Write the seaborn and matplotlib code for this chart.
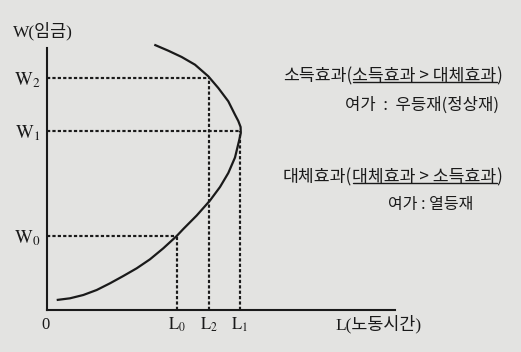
import matplotlib
matplotlib.use("Agg")
import matplotlib.pyplot as plt
import matplotlib.transforms as mtransforms
import seaborn as sns
import pandas as pd
from matplotlib.lines import Line2D

# Backward-bending labour supply curve (hours of labour vs. wage)
labour = [0.97, 2.3, 3.63, 4.97, 6.3, 7.63, 8.97, 10.3, 11.63, 12.97,
          13.63, 14.97, 16.3, 17.3, 18.13, 18.8, 19.2, 19.38, 19.36, 19.13,
          18.8, 18.13, 17.13, 16.13, 14.8, 13.47, 12.13, 10.73]
wage = [1.0, 1.17, 1.5, 2.0, 2.67, 3.4, 4.17, 5.07, 6.17, 7.4,
        8.1, 9.45, 10.95, 12.3, 13.7, 15.25, 16.9, 17.7, 18.3, 18.9,
        19.53, 20.87, 22.2, 23.37, 24.53, 25.3, 25.93, 26.53]

# Reference levels marked with guide lines
level_names = ["0", "1", "2"]
level_labour = [13.0, 19.3, 16.23]
level_wage = [7.4, 17.95, 23.2]

x_max, y_max = 34.8, 26.2

ink = "#1a1a1a"
paper = "#e3e3e1"

sns.set_theme(style="white")
plt.rcParams["font.family"] = ["Liberation Serif", "Noto Sans CJK KR"]
plt.rcParams["mathtext.fontset"] = "stix"

W, H = 521, 352
fig = plt.figure(figsize=(W / 100, H / 100), dpi=100, facecolor=paper)
ax = fig.add_axes([47 / W, 42 / H, 348 / W, 262 / H])
ax.set_facecolor("none")
ax.set_xlim(0, x_max)
ax.set_ylim(0, y_max)

for side in ("top", "right"):
    ax.spines[side].set_visible(False)
for side in ("left", "bottom"):
    ax.spines[side].set_color(ink)
    ax.spines[side].set_linewidth(1.5)

curve = pd.DataFrame({"L": labour, "W": wage})
sns.lineplot(data=curve, x="L", y="W", sort=False, estimator=None, ax=ax,
             color=ink, linewidth=1.6, clip_on=False)
ax.lines[-1].set_solid_joinstyle("round")
ax.lines[-1].set_solid_capstyle("butt")

dash = dict(color=ink, linewidth=1.55, dashes=(1.5, 1.0))
for lx, wy in zip(level_labour, level_wage):
    ax.plot([0, lx], [wy, wy], **dash)
    ax.plot([lx, lx], [0, wy], **dash)

ax.set_xticks(level_labour)
ax.set_xticklabels([rf"$\mathrm{{L}}_{{{n}}}$" for n in level_names])
ax.set_yticks(level_wage)
ax.set_yticklabels([rf"$\mathrm{{W}}_{{{n}}}$" for n in level_names])
ax.tick_params(axis="both", length=0, colors=ink)
ax.tick_params(axis="x", pad=4, labelsize=12)
ax.tick_params(axis="y", pad=5, labelsize=13.5)
ax.set_xlabel("")
ax.set_ylabel("")

# Axis captions
fig.text(13 / W, 1 - 31 / H, "W(임금)", fontsize=12.5, color=ink,
         ha="left", va="center")
fig.text(335 / W, 1 - 324 / H, "L(노동시간)", fontsize=12.5, color=ink,
         ha="left", va="center")
fig.text(45 / W, 1 - 325 / H, "0", fontsize=12, color=ink,
         ha="center", va="center")

ko = ["Noto Sans CJK KR", "DejaVu Sans"]
pix = mtransforms.IdentityTransform()


def heading(x_px, y_px, lead, inner, size=12.4):
    """Effect heading with the comparison in parentheses underlined."""
    t1 = fig.text(x_px / W, 1 - y_px / H, lead + "(", fontsize=size,
                  color=ink, family=ko, ha="left", va="bottom")
    fig.canvas.draw()
    b1 = t1.get_window_extent()
    t2 = fig.text(b1.x1, b1.y0, inner, fontsize=size, color=ink, family=ko,
                  ha="left", va="bottom", transform=pix)
    fig.canvas.draw()
    b2 = t2.get_window_extent()
    fig.text(b2.x1, b1.y0, ")", fontsize=size, color=ink, family=ko,
             ha="left", va="bottom", transform=pix)
    uy = b2.y0 + 3
    fig.add_artist(Line2D([b2.x0 + 1, b2.x1], [uy, uy], color=ink,
                          linewidth=1.0, transform=pix))


heading(283, 85, "소득효과", "소득효과 > 대체효과")
fig.text(499 / W, 1 - 105 / H, "여가  :  우등재(정상재)", fontsize=12,
         color=ink, family=ko, ha="right", va="center")

heading(283, 186, "대체효과", "대체효과 > 소득효과")
fig.text(473 / W, 1 - 205 / H, "여가 : 열등재", fontsize=11.5,
         color=ink, family=ko, ha="right", va="center")

fig.savefig("out.png", dpi=100, facecolor=paper)
